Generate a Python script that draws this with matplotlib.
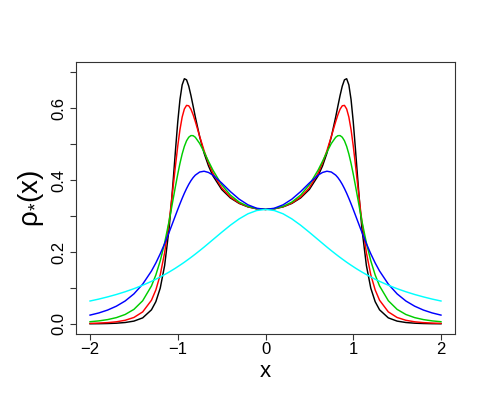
import numpy as np
import matplotlib
matplotlib.use('Agg')
import matplotlib.pyplot as plt

# Values (symmetric densities)
x = [-2.0, -1.9, -1.8, -1.7, -1.6, -1.5, -1.4, -1.3, -1.25, -1.2, -1.15, -1.1,
     -1.075, -1.05, -1.025, -1.0, -0.975, -0.95, -0.925, -0.9, -0.875, -0.85,
     -0.825, -0.8, -0.75, -0.7, -0.65, -0.6, -0.5, -0.4, -0.3, -0.2, -0.1,
     0.0,
     0.1, 0.2, 0.3, 0.4, 0.5, 0.6, 0.65, 0.7, 0.75, 0.8, 0.825, 0.85, 0.875,
     0.9, 0.925, 0.95, 0.975, 1.0, 1.025, 1.05, 1.075, 1.1, 1.15, 1.2, 1.25,
     1.3, 1.4, 1.5, 1.6, 1.7, 1.8, 1.9, 2.0]

rho_black = [0.0004, 0.0006, 0.0011, 0.0020, 0.0039, 0.0078, 0.0168, 0.0392, 0.0618,
             0.0994, 0.1621, 0.2628, 0.3298, 0.4061, 0.4864, 0.5622, 0.6239, 0.6644,
             0.6815, 0.6785, 0.6610, 0.6350, 0.6054, 0.5752, 0.5198, 0.4746, 0.4392,
             0.4118, 0.3739, 0.3501, 0.3349, 0.3253, 0.3200,
             0.3183,
             0.3200, 0.3253, 0.3349, 0.3501, 0.3739, 0.4118, 0.4392, 0.4746, 0.5198,
             0.5752, 0.6054, 0.6350, 0.6610, 0.6785, 0.6815, 0.6644, 0.6239, 0.5622,
             0.4864, 0.4061, 0.3298, 0.2628, 0.1621, 0.0994, 0.0618, 0.0392, 0.0168,
             0.0078, 0.0039, 0.0020, 0.0011, 0.0006, 0.0004]

rho_red = [0.0015, 0.0023, 0.0036, 0.0059, 0.0101, 0.0179, 0.0334, 0.0658, 0.0944,
           0.1365, 0.1977, 0.2823, 0.3330, 0.3873, 0.4425, 0.4949, 0.5402, 0.5750,
           0.5974, 0.6074, 0.6063, 0.5968, 0.5813, 0.5624, 0.5209, 0.4814, 0.4474,
           0.4193, 0.3785, 0.3524, 0.3359, 0.3257, 0.3201,
           0.3183,
           0.3201, 0.3257, 0.3359, 0.3524, 0.3785, 0.4193, 0.4474, 0.4814, 0.5209,
           0.5624, 0.5813, 0.5968, 0.6063, 0.6074, 0.5974, 0.5750, 0.5402, 0.4949,
           0.4425, 0.3873, 0.3330, 0.2823, 0.1977, 0.1365, 0.0944, 0.0658, 0.0334,
           0.0179, 0.0101, 0.0059, 0.0036, 0.0023, 0.0015]

rho_green = [0.0061, 0.0084, 0.0120, 0.0175, 0.0262, 0.0404, 0.0644, 0.1055, 0.1360,
             0.1754, 0.2250, 0.2845, 0.3171, 0.3507, 0.3843, 0.4166, 0.4464, 0.4723,
             0.4934, 0.5090, 0.5189, 0.5235, 0.5232, 0.5188, 0.5014, 0.4776, 0.4521,
             0.4278, 0.3870, 0.3579, 0.3386, 0.3267, 0.3203,
             0.3183,
             0.3203, 0.3267, 0.3386, 0.3579, 0.3870, 0.4278, 0.4521, 0.4776, 0.5014,
             0.5188, 0.5232, 0.5235, 0.5189, 0.5090, 0.4934, 0.4723, 0.4464, 0.4166,
             0.3843, 0.3507, 0.3171, 0.2845, 0.2250, 0.1754, 0.1360, 0.1055, 0.0644,
             0.0404, 0.0262, 0.0175, 0.0120, 0.0084, 0.0061]

rho_blue = [0.0245, 0.0305, 0.0385, 0.0493, 0.0637, 0.0835, 0.1105, 0.1470, 0.1694,
            0.1949, 0.2231, 0.2538, 0.2698, 0.2860, 0.3022, 0.3183, 0.3340, 0.3490,
            0.3632, 0.3762, 0.3879, 0.3981, 0.4067, 0.4136, 0.4222, 0.4244, 0.4210,
            0.4136, 0.3918, 0.3677, 0.3467, 0.3310, 0.3215,
            0.3183,
            0.3215, 0.3310, 0.3467, 0.3677, 0.3918, 0.4136, 0.4210, 0.4244, 0.4222,
            0.4136, 0.4067, 0.3981, 0.3879, 0.3762, 0.3632, 0.3490, 0.3340, 0.3183,
            0.3022, 0.2860, 0.2698, 0.2538, 0.2231, 0.1949, 0.1694, 0.1470, 0.1105,
            0.0835, 0.0637, 0.0493, 0.0385, 0.0305, 0.0245]

rho_cyan = [0.0637, 0.0690, 0.0751, 0.0818, 0.0894, 0.0979, 0.1075, 0.1183, 0.1242,
            0.1305, 0.1371, 0.1440, 0.1477, 0.1514, 0.1552, 0.1592, 0.1632, 0.1673,
            0.1715, 0.1759, 0.1803, 0.1848, 0.1894, 0.1941, 0.2037, 0.2136, 0.2238,
            0.2341, 0.2546, 0.2744, 0.2920, 0.3061, 0.3152,
            0.3183,
            0.3152, 0.3061, 0.2920, 0.2744, 0.2546, 0.2341, 0.2238, 0.2136, 0.2037,
            0.1941, 0.1894, 0.1848, 0.1803, 0.1759, 0.1715, 0.1673, 0.1632, 0.1592,
            0.1552, 0.1514, 0.1477, 0.1440, 0.1371, 0.1305, 0.1242, 0.1183, 0.1075,
            0.0979, 0.0894, 0.0818, 0.0751, 0.0690, 0.0637]

x_ticks = [-2, -1, 0, 1, 2]
y_ticks = [0.0, 0.1, 0.2, 0.3, 0.4, 0.5, 0.6, 0.7]
y_ticklabels = ['0.0', '', '0.2', '', '0.4', '', '0.6', '']

# R-like look
plt.rcParams['font.family'] = ['Liberation Sans', 'DejaVu Sans']
plt.rcParams['mathtext.fontset'] = 'custom'
plt.rcParams['mathtext.rm'] = 'Liberation Sans'
plt.rcParams['mathtext.it'] = 'Liberation Sans'
plt.rcParams['mathtext.default'] = 'regular'

fig = plt.figure(figsize=(4.91, 4.09), dpi=100)
ax = fig.add_axes([0.1548, 0.1834, 0.7719, 0.6650])

series = [(rho_black, 'black'), (rho_red, '#FF0000'), (rho_green, '#00CD00'),
          (rho_blue, '#0000FF'), (rho_cyan, '#00FFFF')]
for y, col in series:
    ax.plot(x, y, color=col, lw=1.05)

ax.set_xlim(-2.16, 2.16)
ax.set_ylim(-0.028, 0.728)

ax.set_xticks(x_ticks)
ax.set_yticks(y_ticks)
ax.set_yticklabels(y_ticklabels, rotation=90, va='center', ha='right')
ax.tick_params(axis='both', direction='out', length=4.5, width=0.8,
               color='#333333', labelsize=12)
ax.tick_params(axis='x', pad=1.5)
ax.tick_params(axis='y', pad=2.5)

for sp in ax.spines.values():
    sp.set_color('#333333')
    sp.set_linewidth(0.8)

ax.set_xlabel('x', fontsize=16, va='baseline')
ax.xaxis.set_label_coords(0.5, -0.158)
ax.set_ylabel(r'$\rho_{*}(x)$', fontsize=20, va='baseline')
ax.yaxis.set_label_coords(-0.10, 0.5)

plt.savefig('out.png', dpi=100)
